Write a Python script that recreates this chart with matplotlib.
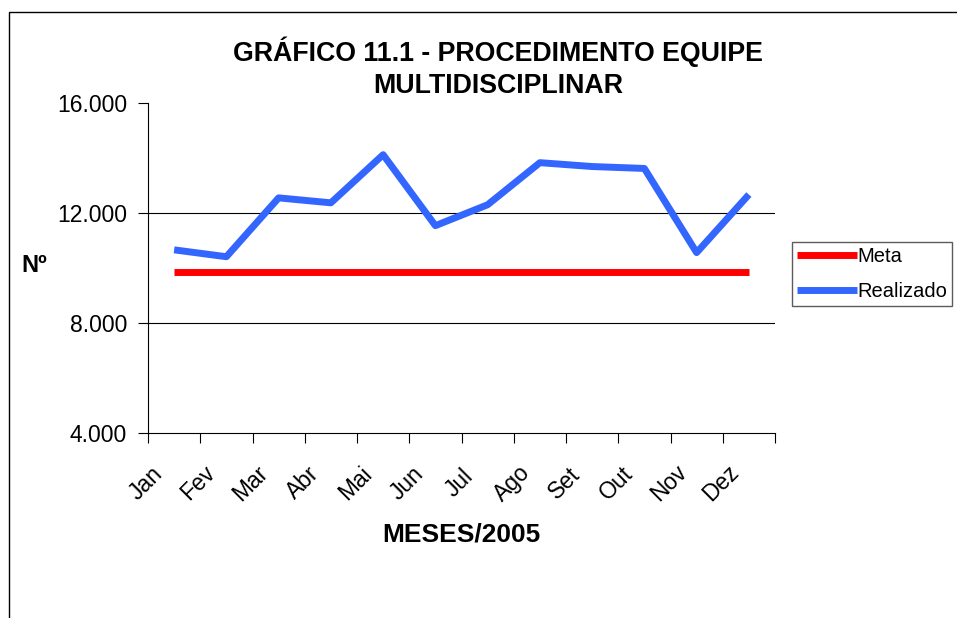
import matplotlib.pyplot as plt
from matplotlib.patches import Rectangle
from matplotlib.transforms import ScaledTranslation

# Dados do gráfico
meses = ["Jan", "Fev", "Mar", "Abr", "Mai", "Jun", "Jul", "Ago", "Set", "Out", "Nov", "Dez"]
meta = [9840] * 12
realizado = [10660, 10410, 12550, 12370, 14120, 11540, 12300, 13830, 13690, 13620, 10560, 12670]
yticks = [4000, 8000, 12000, 16000]
ytick_labels = ["4.000", "8.000", "12.000", "16.000"]

plt.rcParams['font.family'] = ['Liberation Sans', 'DejaVu Sans']

W, H = 957, 618
fig = plt.figure(figsize=(W / 100, H / 100), dpi=100)
ax = fig.add_axes([148 / W, 1 - 433 / H, (775 - 148) / W, (433 - 103) / H])

x = list(range(len(meses)))
ax.plot(x, meta, color="#FF0000", linewidth=5, label="Meta", solid_capstyle="butt")
ax.plot(x, realizado, color="#3366FF", linewidth=5, label="Realizado", solid_capstyle="butt")

ax.set_xlim(-0.5, len(meses) - 0.5)
ax.set_ylim(4000, 16000)
ax.set_yticks(yticks)
ax.set_yticklabels(ytick_labels, fontsize=16.5)
for v in [8000, 12000]:
    ax.axhline(v, color="black", linewidth=0.8, zorder=0)

# ticks entre categorias, rótulos rotacionados
ax.set_xticks([i - 0.5 for i in range(len(meses) + 1)])
ax.set_xticklabels([])
ax.tick_params(axis="x", length=7, width=0.8, direction="out")
ax.tick_params(axis="y", length=7, width=0.8, direction="out", pad=8)
off = ScaledTranslation(-28 / 100, -50 / 100, fig.dpi_scale_trans)
for i, m in enumerate(meses):
    ax.text(i, 0, m, transform=ax.get_xaxis_transform() + off, rotation=45,
            ha="center", va="center", rotation_mode="anchor", fontsize=16.5)

for s in ["top", "right"]:
    ax.spines[s].set_visible(False)
for s in ["left", "bottom"]:
    ax.spines[s].set_linewidth(0.8)

fig.text(498 / W, 1 - 52 / H, "GRÁFICO 11.1 - PROCEDIMENTO EQUIPE", ha="center", va="center",
         fontsize=19.3, fontweight="bold")
fig.text(498 / W, 1 - 86 / H, "MULTIDISCIPLINAR", ha="center", va="center",
         fontsize=19.3, fontweight="bold")
fig.text(461 / W, 1 - 535 / H, "MESES/2005", ha="center", va="center",
         fontsize=19, fontweight="bold")
fig.text(34 / W, 1 - 265 / H, "Nº", ha="center", va="center",
         fontsize=17, fontweight="bold")

leg = fig.legend(loc="upper left", bbox_to_anchor=(792 / W, 1 - 242 / H),
                 fontsize=14.5, frameon=True, fancybox=False, handlelength=3.0,
                 handletextpad=0.0, borderpad=0.25, borderaxespad=0, labelspacing=0.8)
leg.get_frame().set_edgecolor("#333333")
leg.get_frame().set_linewidth(1.0)

# Moldura externa
fig.patches.append(Rectangle((9 / W, -0.1), 1.2, 1 - 12 / H + 0.1, transform=fig.transFigure,
                             fill=False, edgecolor="black", linewidth=1.0))

plt.savefig("out.png", dpi=100)
